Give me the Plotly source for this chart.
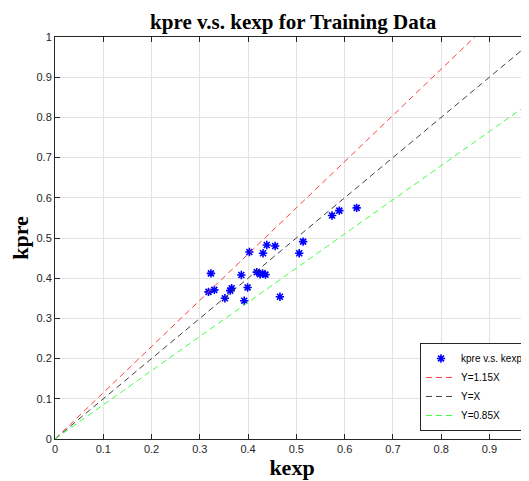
import plotly.graph_objects as go

kexp = [0.4387, 0.456, 0.4027, 0.431, 0.323, 0.386, 0.418, 0.425, 0.430, 0.436,
        0.318, 0.330, 0.366, 0.363, 0.399, 0.352, 0.392, 0.466,
        0.625, 0.589, 0.574, 0.514, 0.506]
kpre = [0.4826, 0.480, 0.465, 0.462, 0.412, 0.408, 0.415, 0.410, 0.412, 0.409,
        0.366, 0.371, 0.375, 0.369, 0.377, 0.350, 0.344, 0.354,
        0.575, 0.568, 0.556, 0.491, 0.462]

line_x = [0, 1]
y_115 = [0, 1.15]
y_1 = [0, 1.0]
y_085 = [0, 0.85]

x_ticks = [0, 0.1, 0.2, 0.3, 0.4, 0.5, 0.6, 0.7, 0.8, 0.9]
x_ticktext = ["0", "0.1", "0.2", "0.3", "0.4", "0.5", "0.6", "0.7", "0.8", "0.9"]
y_ticks = [0, 0.1, 0.2, 0.3, 0.4, 0.5, 0.6, 0.7, 0.8, 0.9, 1]
y_ticktext = ["0", "0.1", "0.2", "0.3", "0.4", "0.5", "0.6", "0.7", "0.8", "0.9", "1"]

fig = go.Figure()
fig.add_trace(go.Scatter(x=kexp, y=kpre, mode="markers", name="kpre v.s. kexp",
                         marker=dict(symbol="asterisk-open", size=7, color="#0000ff",
                                     line=dict(color="#0000ff", width=1.6))))
fig.add_trace(go.Scatter(x=line_x, y=y_115, mode="lines", name="Y=1.15X",
                         line=dict(color="#ff4040", width=1, dash="6px,4px")))
fig.add_trace(go.Scatter(x=line_x, y=y_1, mode="lines", name="Y=X",
                         line=dict(color="#404040", width=1, dash="6px,4px")))
fig.add_trace(go.Scatter(x=line_x, y=y_085, mode="lines", name="Y=0.85X",
                         line=dict(color="#40ff40", width=1, dash="6px,4px")))

axis_common = dict(
    showgrid=True, gridcolor="#e3e3e3", gridwidth=1,
    showline=True, linecolor="#262626", linewidth=1, mirror="ticks",
    ticks="inside", ticklen=5, tickcolor="#262626",
    tickfont=dict(family="Liberation Sans, Arial", size=11, color="#262626"),
    zeroline=False, automargin=False,
)
title_font = dict(family="Liberation Serif, Times New Roman", size=22, color="#000000")

fig.update_layout(
    width=529, height=481,
    margin=dict(l=47, r=8, t=29, b=50),
    paper_bgcolor="white", plot_bgcolor="white",
    title=dict(text="<b>kpre v.s. kexp for Training Data</b>",
               font=dict(family="Liberation Serif, Times New Roman", size=21, color="#000000"),
               x=0.539, xanchor="center", y=0.971, yanchor="middle"),
    xaxis=dict(range=[0, 0.982], title=dict(text="<b>kexp</b>", standoff=2, font=title_font),
               tickvals=x_ticks, ticktext=x_ticktext, **axis_common),
    yaxis=dict(range=[0, 1], title=dict(text="<b>kpre</b>", standoff=12, font=title_font),
               tickvals=y_ticks, ticktext=y_ticktext, **axis_common),
    legend=dict(x=1, xanchor="right", y=0.02, yanchor="bottom",
                bgcolor="white", bordercolor="#262626", borderwidth=1,
                font=dict(family="Liberation Sans, Arial", size=10, color="#000000"),
                tracegroupgap=0, itemwidth=30),
    showlegend=True,
)

fig.write_html("out.html")
